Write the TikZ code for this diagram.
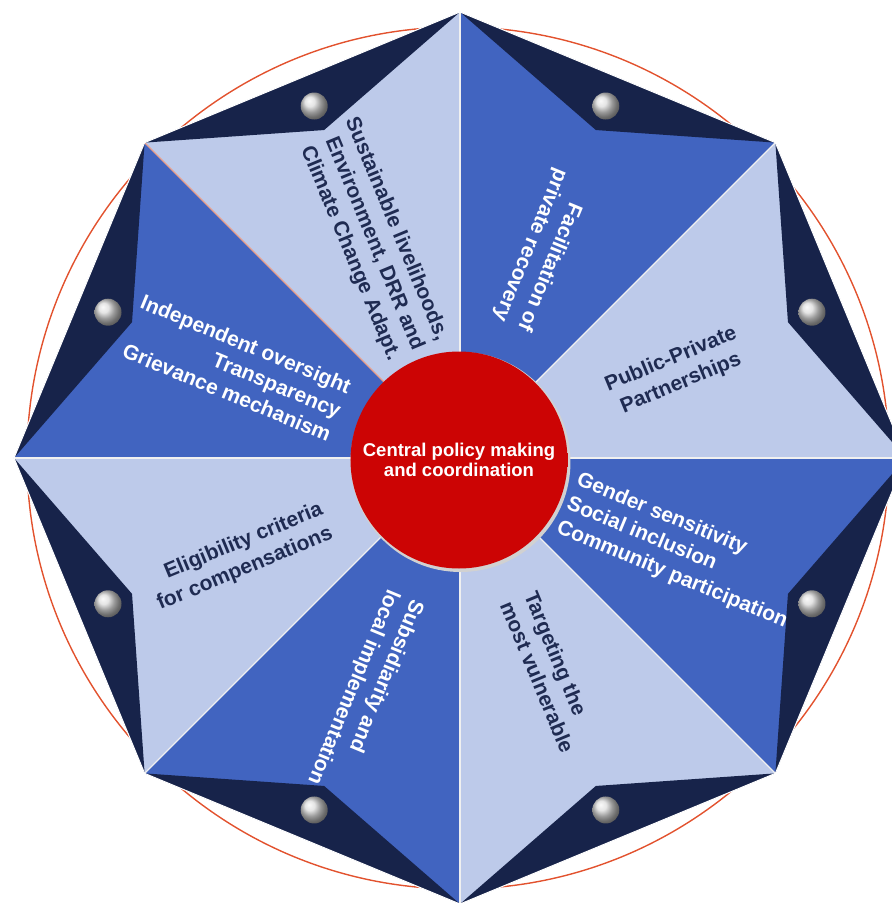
\documentclass[tikz,border=0pt]{standalone}
\usepackage{fontspec}
\setmainfont{Liberation Sans}
\definecolor{lightsec}{HTML}{BDCAEA}
\definecolor{midsec}{HTML}{4164C0}
\definecolor{navy}{HTML}{17234A}
\definecolor{darktext}{HTML}{1F2B52}
\definecolor{ringred}{HTML}{E2522E}
\definecolor{cred}{HTML}{CC0404}
\definecolor{cdark}{HTML}{9A0000}
\definecolor{salmon}{HTML}{E9A08C}
\pgfdeclareradialshading{redcenter}{\pgfpoint{0bp}{0bp}}{color(0bp)=(cred); color(43bp)=(cred); color(48bp)=(cred!85!black); color(50bp)=(cdark); color(100bp)=(cdark)}
\tikzset{
  sectxt/.style={font=\bfseries\fontsize{21}{26}\selectfont, inner sep=0pt},
  whitetxt/.style={sectxt, text=white},
  navytxt/.style={sectxt, text=darktext},
  notch/.style={fill=navy},
  divline/.style={white!88!gray, line width=1.4},
  bead/.style={ball color=gray!28},
}
\begin{document}
\begin{tikzpicture}[x=1pt,y=1pt]
\useasboundingbox (-460,-445) rectangle (432,458);
\clip (-460,-445) rectangle (432,458);
\coordinate (O) at (0,0);
\foreach \k in {0,...,8}{\coordinate (v\k) at ({\k*45}:446);}
\foreach \k in {0,...,7}{
  \coordinate (p\k) at ({\k*45+22.5}:355);
  \coordinate (b\k) at ({\k*45+22.5}:381);
}
% outer red ring
\draw[ringred, line width=1.4] (-2,0) circle (431);
% soft shadow of the octagon
\fill[gray!30, shift={(1.8,-1.8)}] (v0) -- (v1) -- (v2) -- (v3) -- (v4) -- (v5) -- (v6) -- (v7) -- cycle;
% sectors
\fill[lightsec] (O) -- (v0) -- (v1) -- cycle;
\fill[midsec]   (O) -- (v1) -- (v2) -- cycle;
\fill[lightsec] (O) -- (v2) -- (v3) -- cycle;
\fill[midsec]   (O) -- (v3) -- (v4) -- cycle;
\fill[lightsec] (O) -- (v4) -- (v5) -- cycle;
\fill[midsec]   (O) -- (v5) -- (v6) -- cycle;
\fill[lightsec] (O) -- (v6) -- (v7) -- cycle;
\fill[midsec]   (O) -- (v7) -- (v8) -- cycle;
% dark notches on the edges
\foreach \k in {0,...,7}{
  \pgfmathtruncatemacro{\n}{\k+1}
  \fill[notch] (v\k) -- (p\k) -- (v\n) -- cycle;
}
% dividing lines
\foreach \k in {0,1,2,4,5,6,7}{\draw[divline] (O) -- (v\k);}
\draw[salmon, line width=1.2] (O) -- (v3);
% outline
\draw[white, line width=1, line join=miter] (v0) -- (v1) -- (v2) -- (v3) -- (v4) -- (v5) -- (v6) -- (v7) -- cycle;
% beads
\foreach \k in {0,...,7}{\shade[bead] (b\k) circle (13.5);}
% sector texts
\node[whitetxt, rotate=-112.5, align=right] (t1) at (82,208) {Facilitation of\\private recovery};
\node[navytxt, rotate=22.5, align=center] (t2) at (216,86.5) {Public-Private\\Partnerships};
\node[whitetxt, rotate=-22.5, align=left] (t3) at (222,-93) {Gender sensitivity\\Social inclusion\\Community participation};
\node[navytxt, rotate=-67.5, align=left] (t4) at (89.5,-214) {Targeting the\\most vulnerable};
\node[whitetxt, rotate=-112.5, align=left] (t5) at (-95,-234) {Subsidiarity and\\local implementation};
\node[navytxt, rotate=22.5, align=right] (t6) at (-220,-99) {Eligibility criteria\\for compensations};
\node[whitetxt, rotate=-22.5, align=right] (t7) at (-224,90) {Independent oversight\\Transparency\\Grievance mechanism};
\node[navytxt, rotate=-67.5, align=right] (t8) at (-88,219) {Sustainable livelihoods,\\Environment, DRR and\\Climate Change Adapt.};
% central circle
\fill[black!18] (0.5,-4) circle (110);
\node[circle, minimum size=217, inner sep=0pt, shade, shading=redcenter, text=white, align=center, font=\bfseries\fontsize{18.5}{20}\selectfont] (c) at (-1,-2) {Central policy making\\and coordination};
\end{tikzpicture}
\end{document}
